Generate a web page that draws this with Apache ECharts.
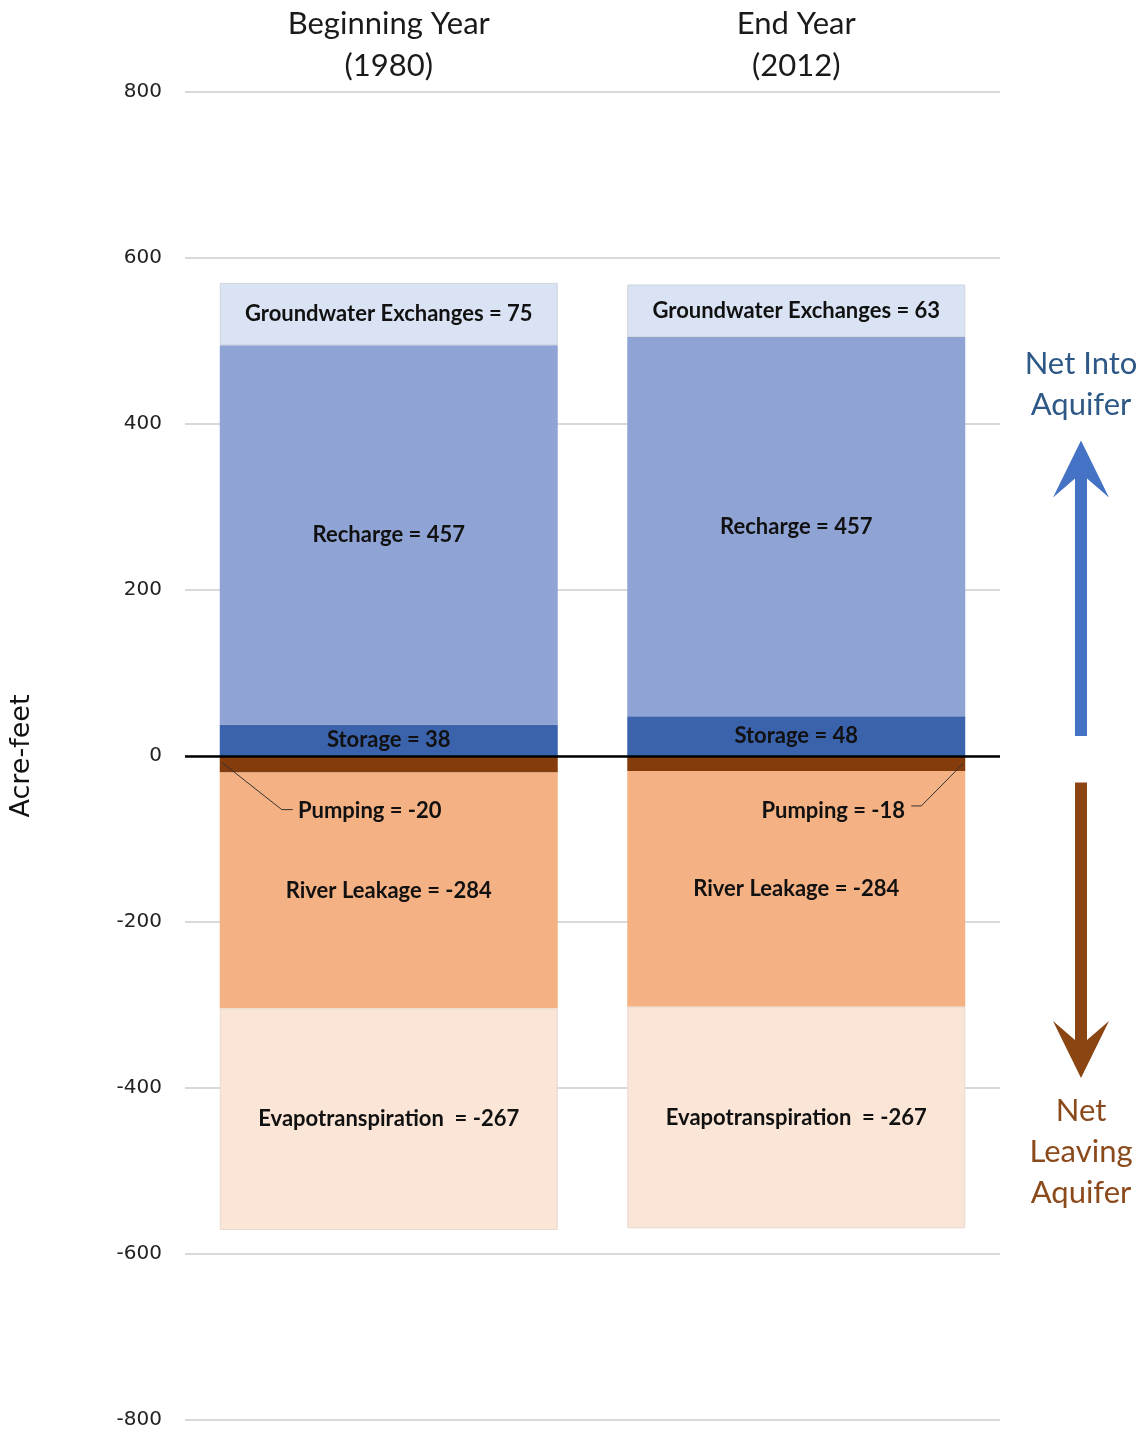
<!DOCTYPE html>
<html>
<head>
<meta charset="utf-8">
<script src="https://cdn.jsdelivr.net/npm/echarts@6/dist/echarts.min.js"></script>
<style>
  html, body { margin: 0; padding: 0; background: #fff; }
  #chart { width: 1142px; height: 1433px; }
</style>
</head>
<body>
<div id="chart"></div>
<script>
// Water budget components, acre-feet, for the two years compared
const years = ['Beginning Year\n(1980)', 'End Year\n(2012)'];
const storage = [38, 48];
const recharge = [457, 457];
const groundwaterExchanges = [75, 63];
const pumping = [-20, -18];
const riverLeakage = [-284, -284];
const evapotranspiration = [-267, -267];
const yTicks = { min: -800, max: 800, step: 200 };

const FONT = 'Lato, "Open Sans", sans-serif';
const BAR_W = 338;

const chart = echarts.init(document.getElementById('chart'), null, { renderer: 'canvas' });

function barSeries(name, data, color, labelText, extra) {
  return Object.assign({
    name: name,
    type: 'bar',
    stack: 'budget',
    barWidth: BAR_W,
    data: data,
    itemStyle: { color: color },
    label: {
      show: true,
      position: 'inside',
      fontFamily: FONT,
      fontWeight: 'bold',
      fontSize: 22,
      color: '#111',
      formatter: p => labelText + ' = ' + p.value
    },
    emphasis: { disabled: true }
  }, extra || {});
}

const option = {
  animation: false,
  backgroundColor: '#fff',
  grid: { left: 185, right: 142, top: 92, bottom: 13, containLabel: false },
  xAxis: {
    type: 'category',
    position: 'top',
    data: years,
    axisLine: { show: false },
    axisTick: { show: false },
    axisLabel: {
      fontFamily: FONT,
      fontSize: 31,
      lineHeight: 42,
      color: '#1a1a1a',
      margin: 5
    }
  },
  yAxis: {
    type: 'value',
    min: yTicks.min,
    max: yTicks.max,
    interval: yTicks.step,
    name: 'Acre-feet',
    nameLocation: 'middle',
    nameRotate: 90,
    nameGap: 150,
    nameTextStyle: { fontFamily: '"DejaVu Sans", sans-serif', fontSize: 27, color: '#111' },
    axisLine: { show: false },
    axisTick: { show: false },
    axisLabel: { fontFamily: '"DejaVu Sans", sans-serif', fontSize: 20, color: '#222', margin: 23 },
    splitLine: { lineStyle: { color: '#d9d9d9', width: 2 } }
  },
  series: [
    barSeries('Storage', storage, '#3b63ac', 'Storage', {
      markLine: {
        silent: true,
        symbol: 'none',
        label: { show: false },
        lineStyle: { color: '#000', width: 2.5, type: 'solid' },
        data: [{ yAxis: 0 }]
      }
    }),
    barSeries('Recharge', recharge, '#8fa4d5', 'Recharge'),
    barSeries('Groundwater Exchanges', groundwaterExchanges, '#dae3f3', 'Groundwater Exchanges', {
      itemStyle: { color: '#dae3f3', borderColor: '#cfd4dc', borderWidth: 1 }
    }),
    barSeries('Pumping', pumping.map((v, i) => ({
      value: v,
      label: { offset: i === 0 ? [-19, 47] : [37, 47] }
    })), '#843c0c', 'Pumping'),
    barSeries('River Leakage', riverLeakage, '#f4b183', 'River Leakage'),
    barSeries('Evapotranspiration', evapotranspiration, '#fbe5d6', 'Evapotranspiration ', {
      itemStyle: { color: '#fbe5d6', borderColor: '#e6d8cf', borderWidth: 1 }
    })
  ]
};

chart.setOption(option);

// Leader lines for the thin pumping segments, and the direction arrows on the right
function px(cat, val) { return chart.convertToPixel({ gridIndex: 0 }, [cat, val]); }

const graphics = [];
pumping.forEach((v, i) => {
  const c = px(i, v / 2);
  const lbl = px(i, v);
  const half = BAR_W / 2;
  let pts;
  if (i === 0) {
    const sx = c[0] - half + 2;
    pts = [[sx, c[1] - 2], [sx + 60, lbl[1] + 37], [sx + 71, lbl[1] + 37]];
  } else {
    const sx = c[0] + half - 2;
    pts = [[sx, c[1]], [sx - 42, lbl[1] + 35], [sx - 52, lbl[1] + 35]];
  }
  graphics.push({
    type: 'polyline',
    shape: { points: pts },
    style: { stroke: '#333', lineWidth: 1, fill: null },
    silent: true,
    z: 10
  });
});

const ax = 1081;
function upArrow(tipY, baseY, color) {
  return {
    type: 'polygon',
    shape: { points: [
      [ax, tipY], [ax + 28, tipY + 57], [ax + 6, tipY + 38], [ax + 6, baseY],
      [ax - 6, baseY], [ax - 6, tipY + 38], [ax - 28, tipY + 57]
    ] },
    style: { fill: color },
    silent: true
  };
}
function downArrow(tipY, baseY, color) {
  return {
    type: 'polygon',
    shape: { points: [
      [ax, tipY], [ax + 28, tipY - 57], [ax + 6, tipY - 38], [ax + 6, baseY],
      [ax - 6, baseY], [ax - 6, tipY - 38], [ax - 28, tipY - 57]
    ] },
    style: { fill: color },
    silent: true
  };
}
const upTip = px(0, 380)[1], upBase = px(0, 24)[1];
const dnTip = px(0, -388)[1], dnBase = px(0, -32)[1];
graphics.push(upArrow(upTip, upBase, '#4472c4'));
graphics.push(downArrow(dnTip, dnBase, '#8b4513'));

graphics.push({
  type: 'text',
  x: ax, y: 384,
  style: {
    text: 'Net Into\nAquifer',
    fontFamily: FONT, fontSize: 31, lineHeight: 41,
    fill: '#2e5886', align: 'center', verticalAlign: 'middle'
  },
  silent: true
});
graphics.push({
  type: 'text',
  x: ax, y: 1152,
  style: {
    text: 'Net\nLeaving\nAquifer',
    fontFamily: FONT, fontSize: 31, lineHeight: 41,
    fill: '#8b4a1c', align: 'center', verticalAlign: 'middle'
  },
  silent: true
});

chart.setOption({ graphic: graphics });
</script>
</body>
</html>
